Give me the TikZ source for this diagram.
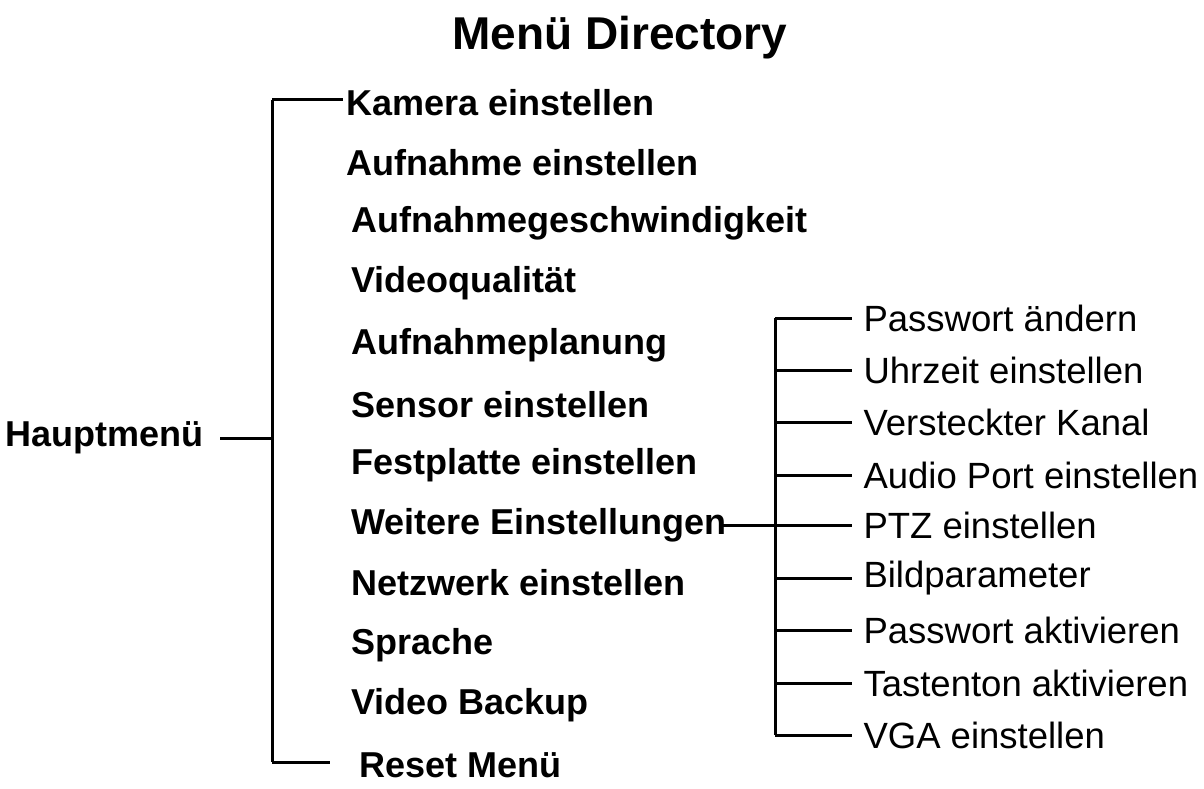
\documentclass[tikz,border=0pt]{standalone}
\usepackage{fontspec}
\setmainfont{Liberation Sans}
\begin{document}
\begin{tikzpicture}[x=1pt, y=-1pt, line width = 3pt,
                    main/.style = {anchor=west, inner sep=0pt, font=\fontsize{36}{40}\selectfont\bfseries},
                    sub/.style = {anchor=west, inner sep=0pt, font=\fontsize{36.5}{40}\selectfont}]
      \useasboundingbox (0,0) rectangle (1204,789);
      \node [font=\fontsize{46}{50}\selectfont\bfseries] (title) at (620, 38) {Menü Directory};
      \node [main, anchor=east] (H) at (205, 438) {Hauptmenü};
      \coordinate (Hr) at (272, 438);
      \coordinate (Vt) at (272, 100);
      \coordinate (Vb) at (272, 762);

      \node [main] (M1) at (345, 103) {Kamera einstellen};
      \node [main] (M2) at (345, 163) {Aufnahme einstellen};
      \node [main] (M3) at (350, 223) {Aufnahmegeschwindigkeit};
      \node [main] (M4) at (350, 283) {Videoqualität};
      \node [main] (M5) at (350, 345) {Aufnahmeplanung};
      \node [main] (M6) at (350, 405) {Sensor einstellen};
      \node [main] (M7) at (350, 465) {Festplatte einstellen};
      \node [main] (M8) at (350, 525) {Weitere Einstellungen};
      \node [main] (M9) at (350, 583) {Netzwerk einstellen};
      \node [main] (M10) at (350, 645) {Sprache};
      \node [main] (M11) at (350, 705) {Video Backup};
      \node [main] (M12) at (358, 765) {Reset Menü};

      \draw (H.east) ++(15,0) -- (Hr);
      \draw (Vt) -- (Vb);
      \draw (Vt) -- ([xshift=-2pt]M1.west |- Vt);
      \draw (Vb) -- ([xshift=-28pt]M12.west |- Vb);

      \coordinate (St) at (775, 318);
      \coordinate (Sb) at (775, 735);
      \draw ([xshift=-5pt]M8.east) -- (M8.east -| St);
      \draw (St) -- (Sb);
      \foreach \n/\y/\t in {S1/318/Passwort ändern, S2/370/Uhrzeit einstellen,
                            S3/422/Versteckter Kanal, S4/475/Audio Port einstellen,
                            S5/525/PTZ einstellen, S6/578/Bildparameter,
                            S7/630/Passwort aktivieren, S8/683/Tastenton aktivieren,
                            S9/735/VGA einstellen} {
        \node [sub] (\n) at (862, \y) {\t};
        \draw (775, \y) -- ([xshift=-10pt]\n.west);
      }
\end{tikzpicture}
\end{document}
